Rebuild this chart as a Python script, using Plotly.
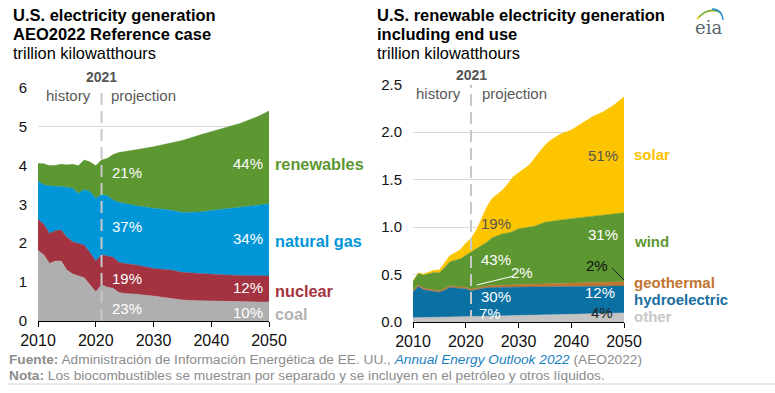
import plotly.graph_objects as go

W, H = 775, 393

# ---------------- left chart data (trillion kWh) ----------------
years_L = [2010, 2011, 2012, 2013, 2014, 2015, 2016, 2017, 2018, 2019, 2020, 2021,
           2022, 2023, 2024, 2025, 2027, 2030, 2033, 2035, 2038, 2040, 2043, 2045, 2048, 2050]
coal = [1.81, 1.70, 1.48, 1.54, 1.54, 1.31, 1.21, 1.17, 1.11, 0.93, 0.75, 0.93,
        0.87, 0.84, 0.73, 0.71, 0.69, 0.64, 0.58, 0.54, 0.52, 0.51, 0.50, 0.50, 0.49, 0.49]
nuclear = [0.80, 0.79, 0.77, 0.78, 0.80, 0.84, 0.83, 0.83, 0.84, 0.83, 0.79, 0.77,
           0.80, 0.80, 0.78, 0.77, 0.75, 0.71, 0.73, 0.71, 0.70, 0.69, 0.68, 0.67, 0.67, 0.67]
natural_gas = [0.99, 1.01, 1.22, 1.15, 1.12, 1.29, 1.37, 1.28, 1.43, 1.57, 1.61, 1.55,
               1.55, 1.47, 1.54, 1.54, 1.52, 1.55, 1.54, 1.54, 1.58, 1.64, 1.71, 1.75, 1.82, 1.85]
renewables = [0.45, 0.54, 0.52, 0.53, 0.57, 0.57, 0.62, 0.71, 0.76, 0.76, 0.84, 0.89,
              0.96, 1.17, 1.28, 1.33, 1.44, 1.58, 1.72, 1.85, 1.98, 2.03, 2.11, 2.16, 2.27, 2.39]

# ---------------- right chart data (trillion kWh) ----------------
years_R = [2010, 2011, 2012, 2013, 2014, 2015, 2016, 2017, 2018, 2019, 2020, 2021,
           2022, 2023, 2024, 2025, 2026, 2027, 2028, 2029, 2030, 2032, 2033, 2035,
           2036, 2038, 2040, 2042, 2044, 2046, 2048, 2050]
other = [0.045, 0.046, 0.046, 0.048, 0.049, 0.049, 0.049, 0.050, 0.050, 0.050, 0.050, 0.052,
         0.054, 0.056, 0.058, 0.060, 0.062, 0.064, 0.066, 0.068, 0.070, 0.072, 0.073, 0.075,
         0.076, 0.078, 0.081, 0.084, 0.087, 0.090, 0.093, 0.096]
hydroelectric = [0.271, 0.329, 0.294, 0.285, 0.277, 0.263, 0.284, 0.316, 0.308, 0.302, 0.300, 0.276,
                 0.286, 0.299, 0.302, 0.304, 0.303, 0.302, 0.300, 0.299, 0.298, 0.297, 0.296, 0.295,
                 0.295, 0.294, 0.293, 0.291, 0.289, 0.287, 0.285, 0.283]
geothermal = [0.016, 0.016, 0.016, 0.016, 0.016, 0.016, 0.016, 0.016, 0.016, 0.016, 0.016, 0.016,
              0.017, 0.018, 0.019, 0.020, 0.021, 0.022, 0.023, 0.024, 0.025, 0.027, 0.028, 0.030,
              0.031, 0.033, 0.035, 0.037, 0.039, 0.041, 0.043, 0.045]
wind = [0.096, 0.121, 0.139, 0.163, 0.180, 0.190, 0.229, 0.253, 0.276, 0.297, 0.336, 0.391,
        0.413, 0.434, 0.461, 0.504, 0.526, 0.542, 0.548, 0.563, 0.589, 0.600, 0.610, 0.650,
        0.658, 0.670, 0.679, 0.688, 0.695, 0.707, 0.719, 0.726]
solar = [0.004, 0.005, 0.010, 0.016, 0.023, 0.030, 0.042, 0.065, 0.078, 0.097, 0.126, 0.145,
         0.195, 0.281, 0.370, 0.412, 0.438, 0.460, 0.519, 0.576, 0.588, 0.654, 0.713, 0.810,
         0.850, 0.905, 0.932, 0.990, 1.050, 1.085, 1.140, 1.220]

x_ticks = [2010, 2020, 2030, 2040, 2050]
yL_ticks = [0, 1, 2, 3, 4, 5, 6]
yR_ticks = [0, 0.5, 1.0, 1.5, 2.0, 2.5]

FONT = "Liberation Sans, Arial, sans-serif"

C_COAL, C_NUC, C_GAS, C_REN = "#afafaf", "#a33340", "#0096d7", "#5d9732"
C_OTHER, C_HYDRO, C_GEO, C_WIND, C_SOLAR = "#c4c4c4", "#0b70a2", "#c07530", "#5d9732", "#fdc400"


def px_x(p):
    return p / W


def px_y(p):
    return 1 - p / H


fig = go.Figure()

for name, vals, col in [("coal", coal, C_COAL), ("nuclear", nuclear, C_NUC),
                        ("natural gas", natural_gas, C_GAS), ("renewables", renewables, C_REN)]:
    fig.add_trace(go.Scatter(x=years_L, y=vals, name=name, stackgroup="L", mode="lines",
                             line=dict(width=0.5, color=col), fillcolor=col,
                             xaxis="x", yaxis="y", hoverinfo="skip"))

for name, vals, col in [("other", other, C_OTHER), ("hydroelectric", hydroelectric, C_HYDRO),
                        ("geothermal", geothermal, C_GEO), ("wind", wind, C_WIND),
                        ("solar", solar, C_SOLAR)]:
    fig.add_trace(go.Scatter(x=years_R, y=vals, name=name, stackgroup="R", mode="lines",
                             line=dict(width=0.5, color=col), fillcolor=col,
                             xaxis="x2", yaxis="y2", hoverinfo="skip"))

axis_x = dict(range=[2010, 2050], tickvals=x_ticks, showgrid=False, zeroline=False,
              showline=True, linecolor="#000000", linewidth=1, ticks="outside",
              ticklen=5, tickcolor="#000000", tickfont=dict(family=FONT, size=16, color="#111111"),
              fixedrange=True, automargin=False)
axis_y = dict(showgrid=True, gridcolor="#d9d9d9", gridwidth=1, zeroline=False, showline=False,
              ticks="", tickfont=dict(family=FONT, size=15, color="#111111"),
              ticklabelstandoff=10, fixedrange=True, automargin=False)

fig.update_layout(
    width=W, height=H, margin=dict(l=0, r=0, t=0, b=0, autoexpand=False),
    paper_bgcolor="white", plot_bgcolor="white", showlegend=False,
    font=dict(family=FONT),
    xaxis=dict(domain=[px_x(38), px_x(269)], anchor="y", **axis_x),
    yaxis=dict(domain=[px_y(321), px_y(87.6)], anchor="x", range=[0, 6], tickvals=yL_ticks, **axis_y),
    xaxis2=dict(domain=[px_x(413), px_x(624)], anchor="y2", **axis_x),
    yaxis2=dict(domain=[px_y(322), px_y(84.5)], anchor="x2", range=[0, 2.5], tickvals=yR_ticks,
                tickformat=".1f", **axis_y),
)

ann = []


def add_text(text, x, y, xref, yref, size, color, xanchor="center", bold=False, yanchor="middle"):
    t = f"<b>{text}</b>" if bold else text
    ann.append(dict(text=t, x=x, y=y, xref=xref, yref=yref, showarrow=False,
                    xanchor=xanchor, yanchor=yanchor,
                    font=dict(family=FONT, size=size, color=color)))


# titles
for x0, lines in [(11, ["U.S. electricity generation", "AEO2022 Reference case"]),
                  (375, ["U.S. renewable electricity generation", "including end use"])]:
    add_text(lines[0], px_x(x0), px_y(15), "paper", "paper", 16.5, "#000000", "left", True)
    add_text(lines[1], px_x(x0), px_y(34), "paper", "paper", 16.5, "#000000", "left", True)
    add_text("trillion kilowatthours", px_x(x0), px_y(53), "paper", "paper", 16.4, "#000000", "left")

# 2021 / history / projection
add_text("2021", 2021, px_y(77), "x", "paper", 14, "#555555", "center", True)
add_text("2021", 2021, px_y(75), "x2", "paper", 14, "#555555", "center", True)
add_text("history", 2015.25, px_y(95), "x", "paper", 15, "#595959")
add_text("projection", 2028.3, px_y(95), "x", "paper", 15, "#595959")
add_text("history", 2014.9, px_y(93), "x2", "paper", 15, "#595959")
add_text("projection", 2029.3, px_y(93), "x2", "paper", 15, "#595959")

# left percentages
for txt, x, y in [("21%", 2025.4, 3.83), ("37%", 2025.4, 2.44), ("19%", 2025.4, 1.08),
                  ("23%", 2025.4, 0.31)]:
    add_text(txt, x, y, "x", "y", 15, "white")
for txt, y in [("44%", 4.04), ("34%", 2.13), ("12%", 0.85), ("10%", 0.21)]:
    add_text(txt, 2049.3, y, "x", "y", 15, "white", "right")
# series labels to the right of the left plot (paper x, data y)
for txt, y, col in [("renewables", 4.04, C_REN), ("natural gas", 2.06, C_GAS),
                    ("nuclear", 0.77, C_NUC), ("coal", 0.18, "#b3b3b3")]:
    add_text(txt, px_x(273), y, "paper", "y", 16.3, col, "left", True)

# right percentages
for txt, x, y, col in [("51%", 2046.0, 1.75, "#555555"), ("19%", 2025.7, 1.04, "#555555"),
                       ("31%", 2046.0, 0.92, "white"), ("43%", 2025.7, 0.66, "white"),
                       ("2%", 2030.6, 0.52, "white"), ("2%", 2044.9, 0.59, "#111111"),
                       ("30%", 2025.7, 0.27, "white"), ("12%", 2045.5, 0.31, "white"),
                       ("7%", 2024.6, 0.088, "white"), ("4%", 2045.8, 0.095, "#222222")]:
    add_text(txt, x, y, "x2", "y2", 15, col)
for txt, y, col in [("solar", 1.76, "#fcc200"), ("wind", 0.85, C_WIND),
                    ("geothermal", 0.42, "#c2752f"), ("hydroelectric", 0.24, "#1a6fa0"),
                    ("other", 0.06, "#c8c8c8")]:
    add_text(txt, px_x(632), y, "paper", "y2", 15, col, "left", True)

# logo text
ann.append(dict(text="eia", x=px_x(708), y=px_y(27), xref="paper", yref="paper", showarrow=False,
                xanchor="center", yanchor="middle",
                font=dict(family="DejaVu Serif, serif", size=18, color="#5b6770")))

# footer
GRAY = "#8c8c8c"
ann.append(dict(text="<b>Fuente:</b> Administración de Información Energética de EE. UU., "
                     "<i><span style='color:#1a7fc1'>Annual Energy Outlook 2022</span></i> (AEO2022)",
                x=px_x(7), y=px_y(359), xref="paper", yref="paper", showarrow=False,
                xanchor="left", yanchor="middle", font=dict(family=FONT, size=13.7, color=GRAY)))
ann.append(dict(text="<b>Nota:</b> Los biocombustibles se muestran por separado y se incluyen en el "
                     "petróleo y otros líquidos.",
                x=px_x(7), y=px_y(375), xref="paper", yref="paper", showarrow=False,
                xanchor="left", yanchor="middle", font=dict(family=FONT, size=13.7, color=GRAY)))

fig.update_layout(annotations=ann)

shapes = [
    dict(type="line", xref="x", yref="y", x0=2021, x1=2021, y0=0, y1=6,
         line=dict(color="#c8c8c8", width=2, dash="12px,6px"), layer="above"),
    dict(type="line", xref="x2", yref="y2", x0=2021, x1=2021, y0=0, y1=2.5,
         line=dict(color="#c8c8c8", width=2, dash="12px,6px"), layer="above"),
    dict(type="line", xref="x2", yref="y2", x0=2022.1, y0=0.39, x1=2028.8, y1=0.48,
         line=dict(color="white", width=1), layer="above"),
    dict(type="line", xref="x2", yref="y2", x0=2047.7, y0=0.57, x1=2050, y1=0.44,
         line=dict(color="#222222", width=1), layer="above"),
    dict(type="line", xref="paper", yref="paper", x0=px_x(8), x1=1, y0=px_y(384), y1=px_y(384),
         line=dict(color="#d4d4d4", width=1)),
]


# logo arcs
def arc_path(pts):
    (x0, y0), (cx, cy), (x1, y1) = pts
    return (f"M {px_x(x0)},{px_y(y0)} Q {px_x(cx)},{px_y(cy)} {px_x(x1)},{px_y(y1)}")


for pts, col in [([(697, 19), (705, 9), (716, 11)], "#f2c200"),
                 ([(699, 17), (710, 6), (721, 13)], "#6ab04c"),
                 ([(712, 9), (722, 9), (723, 20)], "#2a8fd0")]:
    shapes.append(dict(type="path", xref="paper", yref="paper", path=arc_path(pts),
                       line=dict(color=col, width=1.5)))

fig.update_layout(shapes=shapes)

fig.write_html("out.html", config={"displayModeBar": False},
               post_script="document.body.style.margin='0';document.body.style.overflow='hidden';")
